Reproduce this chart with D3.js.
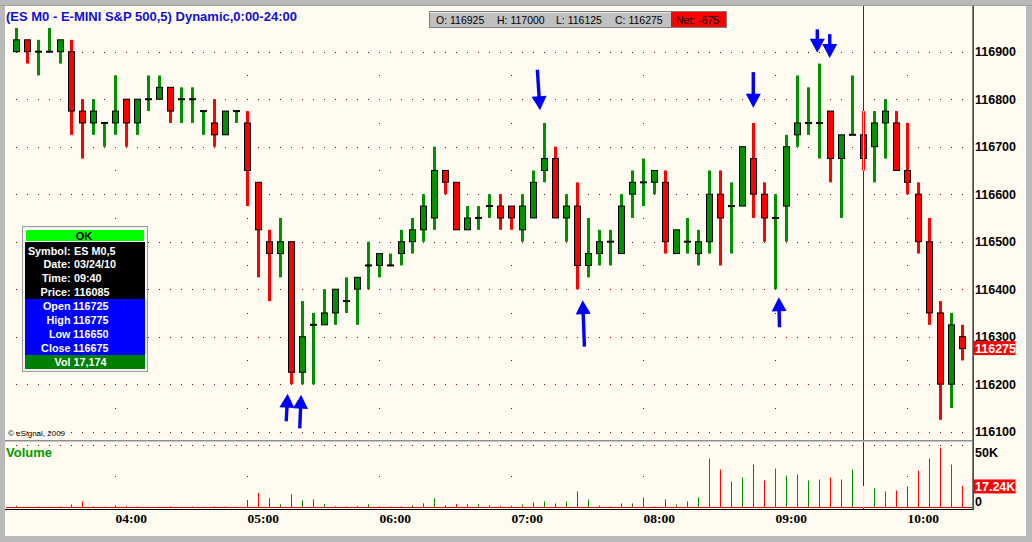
<!DOCTYPE html>
<html><head><meta charset="utf-8">
<script src="https://cdn.jsdelivr.net/npm/d3@7"></script>
<style>html,body{margin:0;padding:0;background:#b8b8b8;overflow:hidden}svg{display:block}</style>
</head><body>
<svg id="c" width="1032" height="542"></svg>
<script>
// ---------------- DATA ----------------
const title = "(ES M0 - E-MINI S&P 500,5) Dynamic,0:00-24:00";
const startTime = "03:15";
const barMinutes = 5;
const opens  = [116900,116925,116900,116900,116900,116900,116775,116750,116750,116750,116800,116750,116800,116800,116825,116800,116800,116775,116750,116725,116775,116750,116625,116500,116475,116500,116225,116325,116325,116350,116375,116400,116450,116450,116450,116475,116500,116525,116550,116650,116625,116525,116550,116575,116575,116575,116525,116550,116650,116675,116550,116575,116450,116475,116500,116475,116600,116625,116625,116625,116475,116500,116475,116500,116600,116575,116575,116675,116600,116550,116575,116725,116750,116750,116775,116675,116725,116725,116700,116750,116750,116650,116600,116500,116350,116200,116300];
const highs  = [116950,116925,116925,116950,116925,116925,116800,116800,116750,116850,116800,116800,116850,116850,116825,116825,116825,116775,116800,116775,116775,116775,116625,116525,116550,116500,116375,116350,116400,116400,116425,116425,116500,116475,116475,116525,116550,116600,116700,116650,116625,116575,116575,116600,116600,116575,116600,116650,116750,116700,116600,116625,116550,116525,116525,116600,116650,116675,116650,116650,116525,116550,116525,116650,116650,116625,116700,116750,116625,116600,116725,116850,116825,116875,116775,116725,116850,116775,116775,116800,116775,116750,116625,116550,116375,116350,116325];
const lows   = [116900,116875,116850,116900,116875,116725,116675,116725,116700,116725,116700,116725,116775,116800,116750,116750,116750,116725,116700,116725,116750,116575,116425,116375,116425,116200,116200,116200,116325,116325,116350,116325,116400,116425,116450,116450,116475,116500,116525,116600,116525,116525,116525,116550,116525,116525,116500,116550,116625,116550,116500,116400,116425,116450,116450,116475,116550,116575,116600,116475,116475,116475,116450,116475,116450,116475,116575,116550,116500,116400,116500,116700,116725,116675,116625,116550,116725,116650,116625,116675,116650,116600,116475,116325,116125,116150,116250];
const closes = [116925,116900,116900,116900,116925,116775,116750,116775,116750,116775,116750,116800,116800,116825,116775,116800,116800,116775,116725,116775,116775,116650,116525,116475,116500,116225,116300,116325,116350,116400,116375,116425,116450,116475,116450,116500,116525,116575,116650,116625,116525,116550,116550,116575,116550,116550,116575,116625,116675,116550,116575,116450,116475,116500,116500,116575,116625,116625,116650,116500,116525,116500,116500,116600,116550,116575,116700,116600,116550,116550,116700,116750,116750,116750,116675,116725,116725,116675,116750,116775,116650,116625,116500,116350,116200,116325,116275];
const volumes = [1500,800,1000,800,1000,2500,5000,1200,800,2000,1500,1000,800,800,1200,800,1000,800,1000,1000,800,6000,11700,7500,2800,10700,5900,6700,2800,1200,1000,1500,2800,1200,1000,1200,2000,3500,7500,2000,2800,2800,2800,2000,1500,1500,2600,4200,5000,3400,5000,12900,6600,1800,1000,3400,3400,8200,1000,6600,2600,5000,8200,39000,30300,20800,24000,34300,21600,31100,25500,26300,21600,22400,24000,22400,30300,17174,15300,12900,13700,16800,29500,39000,47700,34300,17240];
const priceTicks = [116100,116200,116300,116400,116500,116600,116700,116800,116900];
const priceMidLevels = [116150,116250,116350,116450,116550,116650,116750,116850];
const volumeTicks = [0, 50000];
const timeTicks = ["04:00","05:00","06:00","07:00","08:00","09:00","10:00"];
const cursorBar = 77;
const cursorPrice = "116085";
const symbolName = "ES M0,5";
const dateLabel = "03/24/10";
const sessionStats = [["O:", "116925"], ["H:", "117000"], ["L:", "116125"], ["C:", "116275"]];
const netChange = "-675";
const arrowNotes = [
  {tipBar:24.65, tipPrice:116180, tailBar:24.52, tailPrice:116122},
  {tipBar:25.87, tipPrice:116178, tailBar:25.75, tailPrice:116107},
  {tipBar:47.59, tipPrice:116777, tailBar:47.35, tailPrice:116862},
  {tipBar:51.47, tipPrice:116377, tailBar:51.63, tailPrice:116279},
  {tipBar:66.98, tipPrice:116782, tailBar:66.98, tailPrice:116857},
  {tipBar:69.30, tipPrice:116383, tailBar:69.36, tailPrice:116320},
  {tipBar:72.80, tipPrice:116898, tailBar:72.80, tailPrice:116947},
  {tipBar:73.93, tipPrice:116887, tailBar:73.93, tailPrice:116937}
];

// ---------------- STYLE ----------------
const CREAM = "#fffbf0", GREEN = "#009100", RED = "#ff0000", DOT = "#800000", BLUE = "#0000ff";
const SANS = "'Liberation Sans', Arial, sans-serif";
const SERIF = "'Liberation Serif', 'Times New Roman', serif";

// ---------------- SCALES ----------------
const svg = d3.select("#c");
const parseT = d3.timeParse("%H:%M");
const t0 = parseT(startTime);
const n = closes.length;
const barTime = b => new Date(t0.getTime() + b * barMinutes * 60000);
const x = d3.scaleTime().domain([barTime(0), barTime(n - 1)]).range([16.5, 962.5]);
const xb = b => x(barTime(b));
const y = d3.scaleLinear().domain([116100, 116900]).range([431.7, 51.7]);
const vy = d3.scaleLinear().domain([0, 50000]).range([507.7, 444.7]);

const bars = d3.range(n).map(i => ({i, o: opens[i], h: highs[i], l: lows[i], c: closes[i], v: volumes[i]}));
const isUp = d => d.c >= d.o;
const col = d => isUp(d) ? GREEN : RED;

// ---------------- FRAME ----------------
svg.append("rect").attr("width", 1032).attr("height", 542).attr("fill", "#b9b9b9");
svg.append("rect").attr("x", 0).attr("y", 5).attr("width", 1032).attr("height", 1).attr("fill", "#a0a0a0");
svg.append("rect").attr("x", 5).attr("y", 6).attr("width", 1021).attr("height", 530).attr("fill", CREAM);

// ---------------- GRID DOTS ----------------
const grid = svg.append("g");
grid.selectAll(".pd").data(d3.cross(priceTicks, d3.range(n))).join("rect")
  .attr("x", d => Math.floor(xb(d[1]))).attr("y", d => Math.round(y(d[0])))
  .attr("width", 1).attr("height", 1).attr("fill", DOT);
const hourX = timeTicks.map(s => x(parseT(s)));
grid.selectAll(".md").data(d3.cross(priceMidLevels, hourX)).join("rect")
  .attr("x", d => Math.floor(d[1])).attr("y", d => Math.round(y(d[0])))
  .attr("width", 1).attr("height", 1).attr("fill", DOT);
grid.selectAll(".vd").data(d3.range(n)).join("rect")
  .attr("x", i => Math.floor(xb(i))).attr("y", Math.round(vy(50000)))
  .attr("width", 1).attr("height", 1).attr("fill", DOT);
grid.selectAll(".vm").data(hourX).join("rect")
  .attr("x", d => Math.floor(d)).attr("y", Math.round(vy(25000)))
  .attr("width", 1).attr("height", 1).attr("fill", DOT);

// pane separator
svg.append("rect").attr("x", 5).attr("y", 440).attr("width", 967).attr("height", 1).attr("fill", "#8c8c8c");
svg.append("rect").attr("x", 5).attr("y", 441).attr("width", 967).attr("height", 1).attr("fill", "#c8c8c8");

// ---------------- VOLUME ----------------
svg.append("g").selectAll("rect").data(bars).join("rect")
  .attr("x", d => Math.floor(xb(d.i))).attr("width", 1)
  .attr("y", d => vy(d.v)).attr("height", d => vy(0) - vy(d.v))
  .attr("fill", col);
svg.append("rect").attr("x", 6).attr("y", 507).attr("width", 966).attr("height", 1).attr("fill", "#d00000");
svg.append("rect").attr("x", 5).attr("y", 509).attr("width", 968).attr("height", 1).attr("fill", "#000");

// ---------------- CANDLES ----------------
const cg = svg.append("g");
cg.selectAll(".wick").data(bars.filter(d => d.h > d.l)).join("rect")
  .attr("x", d => xb(d.i) - 1.5).attr("width", 3)
  .attr("y", d => y(d.h)).attr("height", d => y(d.l) - y(d.h))
  .attr("fill", col);
cg.selectAll(".body").data(bars.filter(d => d.o !== d.c)).join("rect")
  .attr("x", d => xb(d.i) - 3).attr("width", 6)
  .attr("y", d => y(Math.max(d.o, d.c))).attr("height", d => y(Math.min(d.o, d.c)) - y(Math.max(d.o, d.c)))
  .attr("fill", col).attr("stroke", "#000").attr("stroke-width", 1);
cg.selectAll(".doji").data(bars.filter(d => d.o === d.c)).join("rect")
  .attr("x", d => xb(d.i) - 3.5).attr("width", 7)
  .attr("y", d => y(d.o) - 1).attr("height", 2).attr("fill", "#000");

// ---------------- CURSOR ----------------
const cb = bars[cursorBar];
const cx = Math.floor(xb(cursorBar));
const cur = svg.append("g");
cur.append("rect").attr("x", cx).attr("y", 6).attr("width", 1).attr("height", 434).attr("fill", "#a80000");
cur.append("rect").attr("x", cx).attr("y", y(cb.h)).attr("width", 1).attr("height", y(cb.l) - y(cb.h)).attr("fill", CREAM);
cur.append("rect").attr("x", cx).attr("y", 442).attr("width", 1).attr("height", 67).attr("fill", "#a80000");
cur.append("rect").attr("x", cx).attr("y", vy(cb.v)).attr("width", 1).attr("height", vy(0) - vy(cb.v) + 0.3).attr("fill", "#c8ffff");

// ---------------- ARROWS ----------------
const ag = svg.append("g");
arrowNotes.forEach(a => {
  const tx = xb(a.tipBar), ty = y(a.tipPrice), sx = xb(a.tailBar), sy = y(a.tailPrice);
  const dx = tx - sx, dy = ty - sy, len = Math.hypot(dx, dy);
  const ux = dx / len, uy = dy / len, px = -uy, py = ux;
  const hl = 14, hw = 7.5;
  const bx = tx - ux * hl, by = ty - uy * hl;
  ag.append("line").attr("x1", sx).attr("y1", sy).attr("x2", bx + ux).attr("y2", by + uy)
    .attr("stroke", BLUE).attr("stroke-width", 3.4);
  ag.append("path").attr("d", d3.line()([[tx, ty], [bx + px * hw, by + py * hw], [bx - px * hw, by - py * hw]]) + "Z")
    .attr("fill", BLUE);
});

// ---------------- AXES ----------------
svg.append("rect").attr("x", 972.5).attr("y", 6).attr("width", 1.2).attr("height", 504).attr("fill", "#000");
svg.append("g").selectAll("text").data(priceTicks).join("text")
  .attr("x", 975).attr("y", d => y(d) + 4.5)
  .attr("font-family", SANS).attr("font-weight", "bold").attr("font-size", 12.5).attr("fill", "#000")
  .text(d => d);
svg.append("g").selectAll("text").data(volumeTicks).join("text")
  .attr("x", 975).attr("y", d => d === 0 ? vy(d) - 2.2 : vy(d) + 12.5)
  .attr("font-family", SANS).attr("font-weight", "bold").attr("font-size", 12.5).attr("fill", "#000")
  .text(d => d === 0 ? "0" : d3.format("d")(d / 1000) + "K");
svg.append("g").selectAll("text").data(timeTicks).join("text")
  .attr("x", d => x(parseT(d))).attr("y", 523)
  .attr("font-family", SERIF).attr("font-weight", "bold").attr("font-size", 13.5).attr("fill", "#000")
  .text(d => d);

// last price label
const last = bars[n - 1];
svg.append("rect").attr("x", 973.5).attr("y", y(last.c) - 7.5).attr("width", 42).attr("height", 14).attr("fill", RED);
svg.append("text").attr("x", 975).attr("y", y(last.c) + 4.5)
  .attr("font-family", SANS).attr("font-weight", "bold").attr("font-size", 12.5).attr("fill", "#fff").text(last.c);
// last volume label
svg.append("rect").attr("x", 973.5).attr("y", vy(last.v) - 6.5).attr("width", 42).attr("height", 14).attr("fill", RED);
svg.append("text").attr("x", 975).attr("y", vy(last.v) + 5)
  .attr("font-family", SANS).attr("font-weight", "bold").attr("font-size", 12.5).attr("fill", "#fff")
  .text(d3.format(".2f")(last.v / 1000) + "K");

// ---------------- TITLES ----------------
svg.append("text").attr("x", 6).attr("y", 21).attr("font-family", SANS).attr("font-weight", "bold")
  .attr("font-size", 13).attr("fill", "#1010d8").text(title);
svg.append("text").attr("x", 6).attr("y", 457).attr("font-family", SANS).attr("font-weight", "bold")
  .attr("font-size", 13).attr("fill", "#009a00").text("Volume");
svg.append("text").attr("x", 8).attr("y", 436).attr("font-family", SANS)
  .attr("font-size", 8).attr("fill", "#000").text("\u00a9 eSignal, 2009");

// header stats box
const hb = svg.append("g");
hb.append("rect").attr("x", 429.5).attr("y", 11.5).attr("width", 297).attr("height", 16).attr("fill", "#c0c0c0").attr("stroke", "#808080");
hb.append("line").attr("x1", 430).attr("y1", 12.5).attr("x2", 726).attr("y2", 12.5).attr("stroke", "#e8e8e8");
hb.append("rect").attr("x", 671).attr("y", 12).attr("width", 55).attr("height", 15).attr("fill", RED);
const statX = [436, 497, 556, 615];
hb.selectAll(".st").data(sessionStats).join("text")
  .attr("x", (d, i) => statX[i]).attr("y", 24)
  .attr("font-family", SANS).attr("font-size", 10.5).attr("fill", "#000")
  .text(d => d[0] + " " + d[1]);
hb.append("text").attr("x", 676).attr("y", 24).attr("font-family", SANS).attr("font-size", 10.5).attr("fill", "#000")
  .text("Net: " + netChange);

// info box
const ib = svg.append("g");
ib.append("rect").attr("x", 22.5).attr("y", 226.5).attr("width", 125).attr("height", 145).attr("fill", "#f4f4f4").attr("stroke", "#9a9a9a");
ib.append("rect").attr("x", 25).attr("y", 229).attr("width", 120).attr("height", 13).attr("fill", "#00ff00");
ib.append("rect").attr("x", 25.5).attr("y", 229.5).attr("width", 119).attr("height", 12).attr("fill", "none").attr("stroke", "#ffffff");
ib.append("rect").attr("x", 25).attr("y", 242).attr("width", 120).attr("height", 57).attr("fill", "#000");
ib.append("rect").attr("x", 25).attr("y", 299).attr("width", 120).attr("height", 56).attr("fill", BLUE);
ib.append("rect").attr("x", 25).attr("y", 355).attr("width", 120).attr("height", 14).attr("fill", "#008000");
ib.append("text").attr("x", 84).attr("y", 239.5).attr("text-anchor", "middle")
  .attr("font-family", SANS).attr("font-weight", "bold").attr("font-size", 11).attr("fill", "#000").text("OK");
const infoRows = [
  ["Symbol:", symbolName, 74],
  ["Date:", dateLabel, 74],
  ["Time:", d3.timeFormat("%H:%M")(barTime(cursorBar)), 74],
  ["Price:", cursorPrice, 74],
  ["Open", cb.o, 73],
  ["High", cb.h, 73],
  ["Low", cb.l, 73],
  ["Close", cb.c, 73],
  ["Vol", d3.format(",")(cb.v), 73.5]
];
infoRows.forEach((r, i) => {
  const yy = 254.5 + i * 13.95;
  ib.append("text").attr("x", 70.5).attr("y", yy).attr("text-anchor", "end")
    .attr("font-family", SANS).attr("font-weight", "bold").attr("font-size", 10.8).attr("fill", "#fff").text(r[0]);
  ib.append("text").attr("x", r[2]).attr("y", yy)
    .attr("font-family", SANS).attr("font-weight", "bold").attr("font-size", 10.8).attr("fill", "#fff").text(r[1]);
});
</script>
</body></html>
